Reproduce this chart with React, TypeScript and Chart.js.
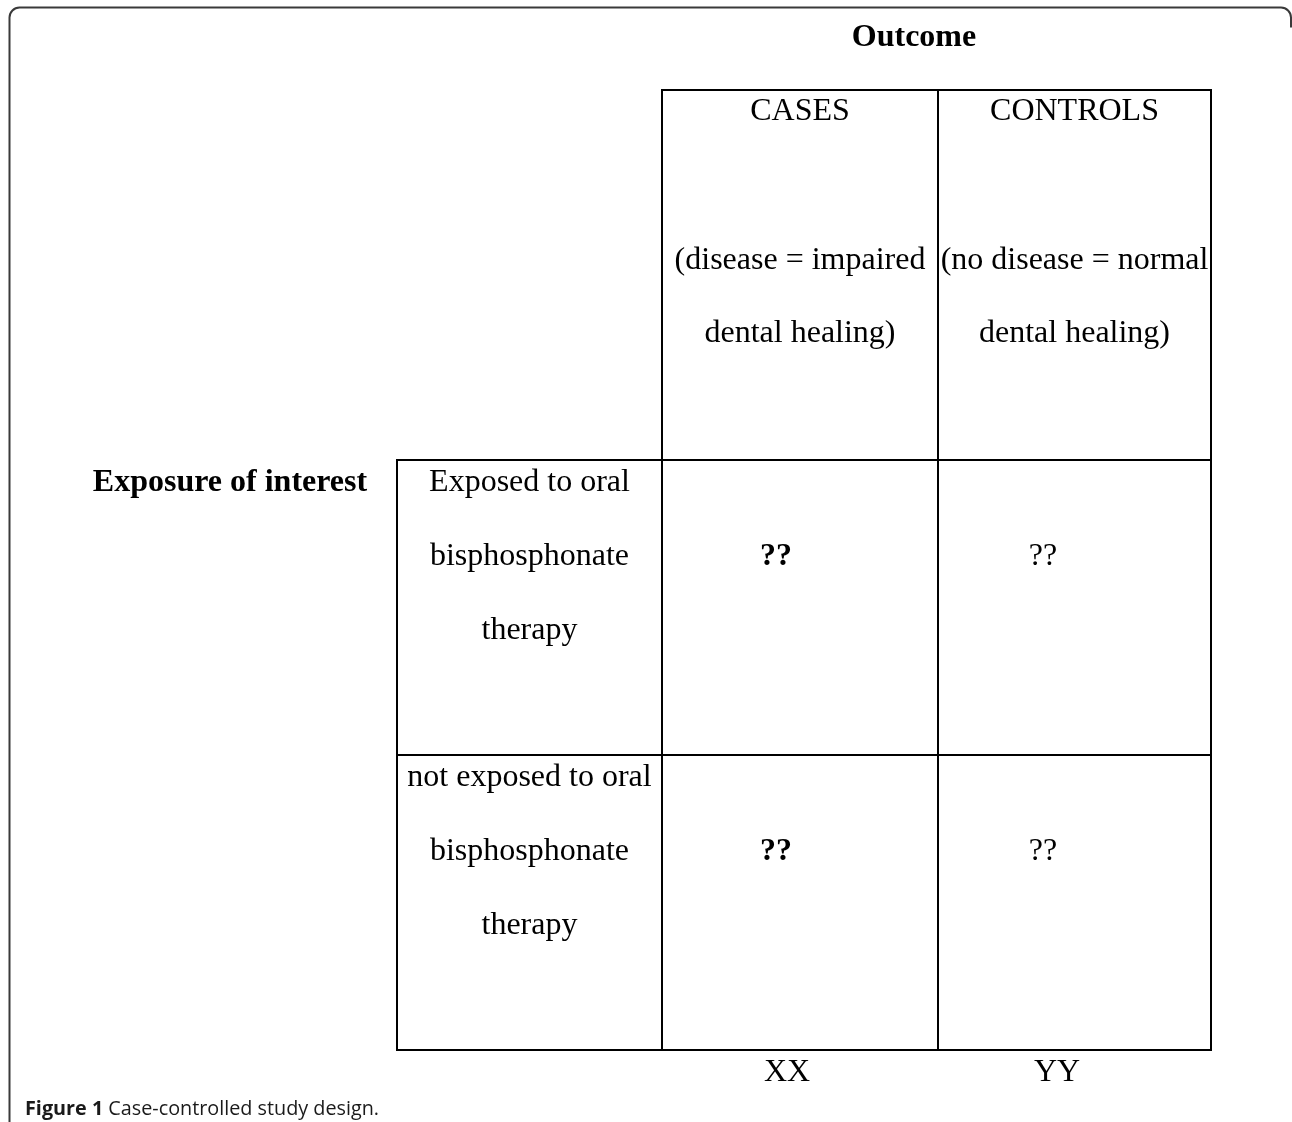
import React, { useEffect, useRef } from "react";
import { Chart, registerables } from "chart.js";

Chart.register(...registerables);

const W = 1292;
const H = 1122;

// table grid (data coordinates)
const colX = [397, 662, 938, 1211];
const rowY = [90, 460, 755, 1050];

// header text
const outcomeTitle = "Outcome";
const exposureTitle = "Exposure of interest";
const columnHeads = ["CASES", "CONTROLS"];
const columnDescLine1 = ["(disease = impaired", "(no disease = normal"];
const columnDescLine2 = ["dental healing)", "dental healing)"];
const rowLabels = [
  ["Exposed to oral", "bisphosphonate", "therapy"],
  ["not exposed to oral", "bisphosphonate", "therapy"],
];
const casesCells = ["??", "??"];
const controlsCells = ["??", "??"];
const totals = ["XX", "YY"];
const captionBold = "Figure 1";
const captionText = " Case-controlled study design.";

type Seg = [number, number, number, number];
const segments: Seg[] = [
  // header block
  [colX[1], rowY[0], colX[3], rowY[0]],
  [colX[1], rowY[0], colX[1], rowY[1]],
  [colX[2], rowY[0], colX[2], rowY[1]],
  [colX[3], rowY[0], colX[3], rowY[1]],
  // body
  [colX[0], rowY[1], colX[3], rowY[1]],
  [colX[0], rowY[2], colX[3], rowY[2]],
  [colX[0], rowY[3], colX[3], rowY[3]],
  [colX[0], rowY[1], colX[0], rowY[3]],
  [colX[1], rowY[1], colX[1], rowY[3]],
  [colX[2], rowY[1], colX[2], rowY[3]],
  [colX[3], rowY[1], colX[3], rowY[3]],
];

const SERIF = '"Liberation Serif", "Times New Roman", serif';
const SANS = '"Open Sans", "Noto Sans", sans-serif';

const textPlugin = {
  id: "tableText",
  beforeDatasetsDraw(chart: any) {
    const { ctx, scales } = chart;
    const xs = scales.x;
    const ys = scales.y;
    const px = (v: number) => xs.getPixelForValue(v);
    const py = (v: number) => ys.getPixelForValue(v);
    ctx.save();
    // page frame with rounded corners
    const fl = px(9.5), ft = py(7.5), fr = px(1291), r = 10;
    ctx.strokeStyle = "#3a3a3a";
    ctx.lineWidth = 2;
    ctx.beginPath();
    ctx.moveTo(fl, py(H + 5));
    ctx.lineTo(fl, ft + r);
    ctx.arcTo(fl, ft, fl + r, ft, r);
    ctx.lineTo(fr - r, ft);
    ctx.arcTo(fr, ft, fr, ft + r, r);
    ctx.lineTo(fr, ft + 20);
    ctx.stroke();
    ctx.restore();
  },
  afterDatasetsDraw(chart: any) {
    const { ctx, scales } = chart;
    const xs = scales.x;
    const ys = scales.y;
    const px = (v: number) => xs.getPixelForValue(v);
    const py = (v: number) => ys.getPixelForValue(v);
    ctx.save();
    ctx.fillStyle = "#000";
    ctx.textBaseline = "middle";
    ctx.textAlign = "center";
    const put = (t: string, x: number, y: number, bold = false, size = 32) => {
      ctx.font = `${bold ? "bold " : ""}${size}px ${SERIF}`;
      ctx.fillText(t, px(x), py(y + 2));
    };
    put(outcomeTitle, 914, 36, true);
    const colC = [(colX[1] + colX[2]) / 2, (colX[2] + colX[3]) / 2];
    columnHeads.forEach((t, i) => put(t, colC[i], 110));
    columnDescLine1.forEach((t, i) => put(t, colC[i], 259));
    columnDescLine2.forEach((t, i) => put(t, colC[i], 332));
    put(exposureTitle, 230, 481, true);
    const rowTop = [rowY[1], rowY[2]];
    const labelC = (colX[0] + colX[1]) / 2;
    rowLabels.forEach((lines, ri) => {
      lines.forEach((t, li) => put(t, labelC, rowTop[ri] + 21 + li * 74));
      put(casesCells[ri], 776, rowTop[ri] + 95, true);
      put(controlsCells[ri], 1043, rowTop[ri] + 95, false);
    });
    put(totals[0], 787, 1071);
    put(totals[1], 1057, 1071);
    // caption
    ctx.textAlign = "left";
    ctx.font = `bold 19.8px ${SANS}`;
    ctx.fillStyle = "#1a1a1a";
    const bx = px(25);
    ctx.fillText(captionBold, bx, py(1109));
    const bw = ctx.measureText(captionBold).width;
    ctx.font = `19.8px ${SANS}`;
    ctx.fillText(captionText, bx + bw, py(1109));
    ctx.restore();
  },
};

export default function App() {
  const ref = useRef<HTMLCanvasElement | null>(null);
  useEffect(() => {
    document.body.style.margin = "0";
    const canvas = ref.current!;
    const chart = new Chart(canvas, {
      type: "scatter",
      data: {
        datasets: segments.map((s) => ({
          data: [
            { x: s[0], y: s[1] },
            { x: s[2], y: s[3] },
          ],
          showLine: true,
          borderColor: "#000",
          borderWidth: 2,
          pointRadius: 0,
          pointHoverRadius: 0,
          clip: false as any,
          borderCapStyle: "square" as any,
        })),
      },
      options: {
        animation: false,
        responsive: false,
        devicePixelRatio: 1,
        layout: { padding: 0 },
        plugins: { legend: { display: false }, tooltip: { enabled: false }, title: { display: false } },
        events: [],
        scales: {
          x: { type: "linear", min: 0, max: W, display: false },
          y: { type: "linear", min: 0, max: H, reverse: true, display: false },
        },
      },
      plugins: [textPlugin],
    });
    return () => chart.destroy();
  }, []);
  return (
    <div style={{ position: "absolute", left: 0, top: 0, width: W, height: H, background: "#fff" }}>
      <canvas ref={ref} width={W} height={H} style={{ display: "block" }} />
    </div>
  );
}
